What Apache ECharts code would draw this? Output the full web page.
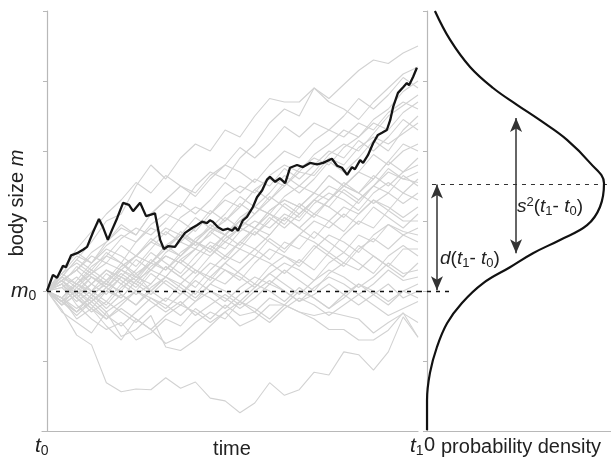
<!DOCTYPE html>
<html><head><meta charset="utf-8">
<script src="https://cdn.jsdelivr.net/npm/echarts@6/dist/echarts.min.js"></script>
<style>html,body{margin:0;padding:0;background:#fff}#c{width:613px;height:460px}</style>
</head><body><div id="c"></div>
<script>
// ---- data ----
const Y_MIN = 0, Y_MAX = 60, Y_STEP = 10;   // body size scale
const M0 = 20;                              // starting body size m0
const MEAN_T1 = 35.3;                       // expected size at t1
const T_MAX = 100;                          // t1

const TIME = [0,4,8,12,16,20,24,28,32,36,40,44,48,52,56,60,64,68,72,76,80,84,88,92,96,100];

const walk01 = [20,17.3,13.7,12.3,6.9,5.6,6.0,5.9,7.6,6.1,7.0,4.7,4.3,2.6,4.0,6.9,5.1,5.9,8.4,8.0,11.3,10.9,8.7,11.3,16.3,13.4];
const walk02 = [20,17,15.5,14,17,13.5,14.5,16.5,12,11.5,13,15,17,15,16,18,18,17,16,14.5,14.5,13,13,14.4,16.9,13.4];
const walk03 = [20,21,18,16,14.5,15.5,13,14,16,15,17.5,16,18,16.5,17,19,18,17,16.5,17,16.5,16,14,15.5,16.8,15.5];
const walk04 = [20,19,16,17.5,15,13,16,14.5,12.5,13.5,15.5,17,16,18.5,17.5,16,18,20,19,17.5,19,21,19.5,18,20,19];
const walk05 = [20,22,24.5,27,30,31,35,38,36,39,41,40,43,42,45,47.5,47,47,49,47.5,49.5,51.5,53,52.5,54,55];
const walk06 = [20,21.5,23,25.5,27,29,28,31,33,32,35,37,36,39,41,44,46,45,49,47,46,44.5,47,49,51,52];
const walk07 = [20,22,21,23.5,25,24,27,29,28,30.5,32,31,33.5,35,34,36.5,38,37,39.5,41,43,42,44.5,46,48.5,50];
const walk08 = [20,18.5,21,22.5,21,23.5,25,27.5,26,28,30.5,29,31,33.5,32,34,36.5,35,37,39.5,41,40,42.5,45,46.5,48];
const walk09 = [20,23,25.5,24,26.5,28,27,29.5,31,30,28.5,31,33,32,34.5,36,35,37.5,39,38,40.5,42,44,43,45.5,47];
const walk10 = [20,21.5,19,21,23,22,24.5,23,25.5,27,26,28.5,30,32.5,31,33,35.5,34,36,38.5,37,39,41.5,40,43,45];
const walk11 = [20,19,21.5,24,26,25,23.5,26,28.5,27,29,31.5,30,32,34.5,33,35,37,36.5,39,38,40.5,42,41,42.5,44];
const walk12 = [20,22.5,24,22.5,25,27.5,29,28,30,32.5,31,33,35.5,34,36,35,37.5,36,38,40,39,41.5,40,42,44.5,43];
const walk13 = [20,18,20.5,19,21.5,23,22,24,26.5,25,27,29.5,28,30,32,31,33.5,35,34,36.5,35,37,39.5,38,40,41];
const walk14 = [20,21,23.5,22,20.5,23,25,27,26,28.5,27,25.5,28,30,29,31.5,33,32,34,36.5,35,37,36,38.5,41,40];
const walk15 = [20,22,20.5,22.5,24,23,21.5,24,26,25,27.5,29,28,30.5,32,31,29.5,32,34,33,35.5,34,36,38.5,37,39];
const walk16 = [20,18.5,17,19.5,21,20,22.5,24,23,25.5,27,26,28,30,29,31.5,33,32,30.5,33,35,34,36.5,35,37,38];
const walk17 = [20,21.5,23,25,24,26.5,25,27,29,28,26.5,28,30.5,29,31,33.5,32,30.5,33,35,34,32.5,35,37.5,36,37];
const walk18 = [20,19,21,20,22.5,21,23,25.5,24,22.5,25,27,26,28.5,30,29,31,30,32.5,34,33,31.5,34,35.5,34,36];
const walk19 = [20,22,24.5,23,21.5,24,22.5,20,22,24.5,26,25,27.5,29,28,30,32.5,31,33,32,34.5,33,35,37,36,35.5];
const walk20 = [20,18,19.5,22,21,23.5,25,24,26.5,28,27,29,28,26.5,29,31,30,32.5,31,33,35,34,32.5,34,36.5,35];
const walk21 = [20,21,19,17.5,20,22,21,23.5,25,24,26,28.5,27,29,28,30.5,29,31,33,32,30.5,33,35,34,32.5,34];
const walk22 = [20,22.5,21,23,25.5,24,22,24.5,23,25,27,26,24.5,27,29,28,30.5,29,27.5,30,32,31,33,31.5,34,33];
const walk23 = [20,19,17,19.5,18,20.5,22,21,23.5,22,24,26.5,25,27,26,28,30.5,29,31,30,28.5,31,33,32,30.5,32];
const walk24 = [20,21.5,23,21,19.5,22,20.5,23,25,24,22.5,25,27,26,28.5,27,25.5,28,30,29,31,29.5,32,30.5,29,31];
const walk25 = [20,18.5,20,22,20.5,19,21.5,23,22,24.5,23,21.5,24,26,25,27.5,26,28,27,25.5,28,30,29,31.5,30,30];
const walk26 = [20,20.5,22,20,18.5,21,19.5,21,23.5,22,20.5,23,25,24,26,24.5,27,26,28.5,27,25.5,28,27,29.5,28,29];
const walk27 = [20,21.5,19.5,21,23,21.5,20,22.5,21,19.5,22,24,23,21.5,24,26,25,23.5,26,28,27,25.5,28,29.5,28.5,28];
const walk28 = [20,18.5,16.5,18.5,20,19,21.5,20,18.5,21,23,22,24,22.5,21,23.5,25,24,26.5,25,23.5,26,27.5,26,28,27];
const walk29 = [20,19,21,19.5,17.5,19.5,18,20.5,22,21,19.5,22,21,23,25,24,22.5,24.5,23,25.5,24,26.5,25,23.5,26,26];
const walk30 = [20,21.5,20,18.5,20.5,22.5,21,19.5,21.5,20,18.5,21,23,22,20.5,22.5,24,23,21.5,24,25.5,24,22.5,25,26.5,25];
const walk31 = [20,18,19.5,17.5,16,18,20,19,17.5,19.5,21.5,20,18.5,20.5,22,21,23,21.5,20,22.5,24,23,25,23.5,22,24];
const walk32 = [20,20.5,18.5,20,21.5,19.5,18,20,22,20.5,19,21,20,18.5,20.5,22.5,21,19.5,21.5,23,22,20.5,22,24,22.5,23];
const walk33 = [20,18.5,17,18.5,16.5,15,17,19,18,16.5,18.5,20,19,17.5,19,21,20,18.5,20.5,22,21,19.5,21,23,21.5,22];
const walk34 = [20,21,19,17,18.5,17,15.5,17.5,19,18,20,19,17.5,19.5,21,20,18.5,20.5,19,17.5,19.5,21,20,18.5,20,21];
const walk35 = [20,19,17.5,19,17,18.5,20,18.5,17,18.5,16.5,18,19.5,18,20,21.5,20,18.5,19.5,21,19.5,18,19.5,21,19,20];
const walk36 = [20,18.5,20,18,16,17.5,16,14.5,16.5,18,17,15.5,17,18.5,17,15.5,17.5,19,18,16.5,18,19.5,18,16.5,17.5,18.5];
const walk37 = [20,23,26,28.5,31,33,35.5,34,36.5,35,33.5,36,38,37,35.5,38,40,39,41.5,43,42,44,43,45.5,47,46];
const walk38 = [20,22.5,25,24,27,29.5,28,31,33,35,34,36.5,38,40.5,39,41,43.5,42,44,43,45,47.5,46,48,50.5,49];

const BLACK_T = [0,1.6,2.7,4.3,5.1,6.5,8.1,9.7,10.8,12.4,14.0,15.1,16.4,17.5,18.9,20.5,22.1,23.2,25.1,26.7,29.1,30.5,31.5,32.6,34.5,35.8,37.2,39.1,40.4,41.8,43.1,43.9,44.7,46.1,47.4,48.8,49.9,50.7,51.5,52.8,53.9,55.5,56.6,58.0,59.3,60.1,61.5,62.8,64.2,65.5,67.4,69.0,70.9,72.8,74.4,76.8,78.2,79.5,80.9,82.2,83.0,84.4,85.2,86.5,87.9,89.2,90.3,91.6,92.5,93.3,94.6,96.0,97.0,97.6,98.7,99.7];
const BLACK_M = [20,22.3,21.9,23.6,23.4,25.1,25.4,25.9,26.3,28.4,30.3,29.1,27.3,28.7,30.4,32.6,32.3,31.4,32.6,30.7,31.1,27.3,26.0,26.4,26.3,27.3,28.3,29.0,29.4,29.9,29.7,30.1,29.9,29.1,28.7,28.9,28.6,29.1,28.6,30.1,30.6,32.0,33.4,34.4,35.9,36.3,35.6,36.1,35.4,37.6,38.0,37.7,38.3,38.1,38.3,38.9,37.9,37.6,36.6,37.7,37.4,38.7,38.3,39.4,41.1,42.3,42.6,43.0,44.4,46.3,48.3,49.1,49.7,49.4,50.6,51.9];

// probability density at t1 (density, body size)
const DENS_D = [0.043,0.125,0.234,0.359,0.489,0.614,0.761,0.886,0.962,0.940,0.870,0.723,0.576,0.451,0.304,0.190,0.109,0.054,0.016,0.0,0.0];
const DENS_M = [60,55.9,52.0,49.0,46.6,44.4,41.6,38.3,35.4,32.0,29.4,27.3,25.4,23.4,21.1,18.3,15.4,12.0,8.3,4.4,0.1];

// annotation arrows: density position, top, bottom
const ARROW_D  = [0.054, 35.2, 20.1];
const ARROW_S2 = [0.484, 44.7, 25.4];

// ---- chart ----
const walks = [walk01,walk02,walk03,walk04,walk05,walk06,walk07,walk08,walk09,walk10,walk11,walk12,walk13,walk14,walk15,walk16,walk17,walk18,walk19,walk20,walk21,walk22,walk23,walk24,walk25,walk26,walk27,walk28,walk29,walk30,walk31,walk32,walk33,walk34,walk35,walk36,walk37,walk38];
const F = "'Liberation Sans', Arial, sans-serif";
const TC = '#222';
const AX = '#b8b8b8';

const series = walks.map(w => ({
  type:'line', xAxisIndex:0, yAxisIndex:0, showSymbol:false, silent:true, z:1,
  lineStyle:{color:'#d2d2d2', width:1.1},
  data: TIME.map((t,i)=>[t, w[i]])
}));
series.push({
  type:'line', xAxisIndex:0, yAxisIndex:0, showSymbol:false, silent:true, z:5,
  lineStyle:{color:'#151515', width:2.3},
  data: BLACK_T.map((t,i)=>[t, BLACK_M[i]]),
  markLine:{silent:true, symbol:['none','none'], label:{show:false},
    lineStyle:{color:'#111', type:[4,5], width:1.3},
    data:[[{coord:[0,M0]},{coord:[T_MAX,M0]}]]}
});
series.push({
  type:'line', xAxisIndex:1, yAxisIndex:1, showSymbol:false, silent:true, smooth:0.4, z:5,
  lineStyle:{color:'#111', width:2.2},
  data: DENS_D.map((d,i)=>[d, DENS_M[i]]),
  markLine:{silent:true, symbol:['none','none'], label:{show:false}, animation:false,
    data:[
      [{coord:[-0.049,M0], lineStyle:{color:'#111', type:[4,5], width:1.3}},{coord:[0.136,M0]}],
      [{coord:[0.027,MEAN_T1], lineStyle:{color:'#333', type:[4,5], width:1.2}},{coord:[0.978,MEAN_T1]}],
      [{coord:[0,Y_MIN], lineStyle:{color:AX, type:'solid', width:1.2}},{coord:[1,Y_MIN]}],
      [{coord:[ARROW_D[0],ARROW_D[1]], symbol:'arrow', symbolSize:[9,14], lineStyle:{color:'#333', type:'solid', width:1.5}},
       {coord:[ARROW_D[0],ARROW_D[2]], symbol:'arrow', symbolSize:[9,14]}],
      [{coord:[ARROW_S2[0],ARROW_S2[1]], symbol:'arrow', symbolSize:[9,14], lineStyle:{color:'#333', type:'solid', width:1.5}},
       {coord:[ARROW_S2[0],ARROW_S2[2]], symbol:'arrow', symbolSize:[9,14]}]
    ]}
});

const rich = {
  n:{fontFamily:F, fontSize:20, color:TC, lineHeight:24},
  i:{fontFamily:F, fontSize:20, fontStyle:'italic', color:TC, lineHeight:24},
  I:{fontFamily:F, fontSize:21, fontStyle:'italic', color:TC, lineHeight:24},
  b:{fontFamily:F, fontSize:14, color:TC, lineHeight:14, verticalAlign:'bottom'},
  p:{fontFamily:F, fontSize:14, color:TC, lineHeight:14, verticalAlign:'top'},
  N:{fontFamily:F, fontSize:19, color:TC, lineHeight:22},
  J:{fontFamily:F, fontSize:19, fontStyle:'italic', color:TC, lineHeight:22},
  B:{fontFamily:F, fontSize:13, color:TC, lineHeight:13, verticalAlign:'bottom'},
  P:{fontFamily:F, fontSize:13, color:TC, lineHeight:13, verticalAlign:'top'}
};
function txt(text, x, y, align, vAlign, extra){
  return Object.assign({type:'text', x:x, y:y, silent:true, z:100,
    style:{text:text, rich:rich, align:align, verticalAlign:vAlign, textAlign:align, textVerticalAlign:vAlign,
      font:'20px '+F, fill:TC}}, extra||{});
}

const option = {
  animation:false,
  backgroundColor:'#fff',
  grid:[
    {left:42, right:195, top:11, bottom:29},
    {left:418, right:2, top:11, bottom:29}
  ],
  xAxis:[
    {type:'value', gridIndex:0, min:-1.35, max:T_MAX, axisLine:{lineStyle:{color:AX, width:1.2}}, axisTick:{show:false}, axisLabel:{show:false}, splitLine:{show:false}},
    {type:'value', gridIndex:1, min:-0.049, max:1, axisLine:{show:false}, axisTick:{show:false}, axisLabel:{show:false}, splitLine:{show:false}}
  ],
  yAxis:[
    {type:'value', gridIndex:0, min:Y_MIN, max:Y_MAX, interval:Y_STEP, axisLine:{show:true, lineStyle:{color:AX, width:1.2}}, axisTick:{show:true, length:4, lineStyle:{color:AX}}, axisLabel:{show:false}, splitLine:{show:false}},
    {type:'value', gridIndex:1, position:'right', min:Y_MIN, max:Y_MAX, interval:Y_STEP, axisLine:{show:true, lineStyle:{color:AX, width:1.2}}, axisTick:{show:true, inside:true, length:4, lineStyle:{color:AX}}, axisLabel:{show:false}, splitLine:{show:false}}
  ],
  series:series,
  graphic:[
    txt('{n|body size }{i|m}', 17, 203, 'center', 'middle', {rotation:Math.PI/2}),
    txt('{I|m}{b|0}', 11, 291, 'left', 'middle'),
    txt('{I|t}{b|0}', 35, 446, 'left', 'middle'),
    txt('{n|time}', 232, 449, 'center', 'middle'),
    txt('{I|t}{b|1}', 410, 446, 'left', 'middle'),
    txt('{n|0}', 424, 445, 'left', 'middle'),
    txt('{n|probability density}', 441, 447, 'left', 'middle'),
    txt('{J|s}{P|2}{N|(}{J|t}{B|1}{N|- }{J|t}{B|0}{N|)}', 517, 207, 'left', 'middle'),
    txt('{J|d}{N|(}{J|t}{B|1}{N|- }{J|t}{B|0}{N|)}', 440, 259, 'left', 'middle')
  ]
};
const chart = echarts.init(document.getElementById('c'), null, {renderer:'canvas'});
chart.setOption(option);
</script></body></html>
